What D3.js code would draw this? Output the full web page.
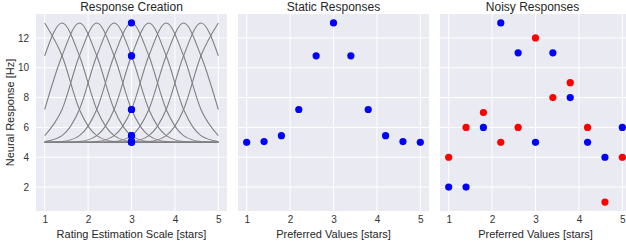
<!DOCTYPE html>
<html>
<head>
<meta charset="utf-8">
<script src="https://cdn.jsdelivr.net/npm/d3@7"></script>
<style>
  body { margin: 0; background: #fff; }
  svg text { font-family: "Liberation Sans", Arial, sans-serif; fill: #262626; }
  .axis .domain { display: none; }
  .axis .tick line { display: none; }
  .axis .tick text { font-size: 10px; fill: #333; }
</style>
</head>
<body>
<svg id="chart"></svg>
<script>
// preferred values of the 11 neurons (stars)
const preferred = [1, 1.4, 1.8, 2.2, 2.6, 3, 3.4, 3.8, 4.2, 4.6, 5];
// response of each neuron to a 3-star stimulus
const staticResp = [5.0, 5.05, 5.45, 7.2, 10.8, 13, 10.8, 7.2, 5.45, 5.05, 5.0];
// two noisy draws
const noisyBlue = [2, 2, 6, 13, 11, 5, 11, 8, 5, 4, 6];
const noisyRed = [4, 6, 7, 5, 6, 12, 8, 9, 6, 1, 4];
// tuning curve shape: distance from preferred value -> response (Hz)
const tuneOffsets = [-4, -3.6, -3.2, -2.8, -2.4, -2, -1.6, -1.2, -0.8, -0.4, 0, 0.4, 0.8, 1.2, 1.6, 2, 2.4, 2.8, 3.2, 3.6, 4];
const tuneValues = [5, 5, 5, 5, 5, 5, 5.05, 5.45, 7.2, 10.8, 13, 10.8, 7.2, 5.45, 5.05, 5, 5, 5, 5, 5, 5];
const stimulus = 3;
const xTicks = [1, 2, 3, 4, 5];
const yTicks = [2, 4, 6, 8, 10, 12];
const titles = ["Response Creation", "Static Responses", "Noisy Responses"];
const xLabels = ["Rating Estimation Scale [stars]", "Preferred Values [stars]", "Preferred Values [stars]"];

const width = 626, height = 248;
const plotTop = 14, plotBottom = 211;
const panelW = 191, panelGap = 11, left0 = 36;

const svg = d3.select("#chart").attr("width", width).attr("height", height);

const y = d3.scaleLinear().domain([0.4, 13.6]).range([plotBottom, plotTop]);

const panels = titles.map((t, i) => {
  const x0 = left0 + i * (panelW + panelGap);
  const x = d3.scaleLinear().domain([0.8, 5.2]).range([x0, x0 + panelW]);
  const g = svg.append("g");

  g.append("rect")
    .attr("x", x0).attr("y", plotTop)
    .attr("width", panelW).attr("height", plotBottom - plotTop)
    .attr("fill", "#EAEAF2");

  // grid lines
  g.selectAll(".gx").data(xTicks).enter().append("line")
    .attr("x1", d => x(d)).attr("x2", d => x(d))
    .attr("y1", plotTop).attr("y2", plotBottom)
    .attr("stroke", "#fff").attr("stroke-width", 1);
  g.selectAll(".gy").data(yTicks).enter().append("line")
    .attr("x1", x0).attr("x2", x0 + panelW)
    .attr("y1", d => y(d)).attr("y2", d => y(d))
    .attr("stroke", "#fff").attr("stroke-width", 1);

  g.append("g").attr("class", "axis")
    .attr("transform", `translate(0,${plotBottom})`)
    .call(d3.axisBottom(x).tickValues(xTicks).tickSize(0).tickPadding(5).tickFormat(d3.format("d")));

  g.append("text")
    .attr("x", x0 + panelW / 2 - (i == 2 ? 3 : 0)).attr("y", 11)
    .attr("text-anchor", "middle").attr("font-size", 12)
    .text(t);

  g.append("text")
    .attr("x", x(3)).attr("y", 238)
    .attr("text-anchor", "middle").attr("font-size", 11)
    .text(xLabels[i]);

  return {g, x};
});

// y axis on first panel only
svg.append("g").attr("class", "axis")
  .attr("transform", `translate(${left0},0)`)
  .call(d3.axisLeft(y).tickValues(yTicks).tickSize(0).tickPadding(7));

svg.append("text")
  .attr("transform", `translate(14,${(plotTop + plotBottom) / 2}) rotate(-90)`)
  .attr("text-anchor", "middle").attr("font-size", 11)
  .text("Neural Response [Hz]");

// panel 1: tuning curves
const p1 = panels[0];
const line = d3.line()
  .x(d => p1.x(d[0])).y(d => y(d[1]))
  .curve(d3.curveMonotoneX);

preferred.forEach(p => {
  const pts = tuneOffsets
    .map((o, k) => [+(p + o).toFixed(2), tuneValues[k]])
    .filter(d => d[0] >= 1 - 1e-6 && d[0] <= 5 + 1e-6);
  p1.g.append("path")
    .attr("d", line(pts))
    .attr("fill", "none")
    .attr("stroke", "#808080")
    .attr("stroke-width", 1.1);
});

p1.g.selectAll(".dot").data(staticResp).enter().append("circle")
  .attr("cx", p1.x(stimulus)).attr("cy", d => y(d))
  .attr("r", 3.6).attr("fill", "#0000ff");

// panel 2: static responses
const p2 = panels[1];
p2.g.selectAll(".dot").data(preferred).enter().append("circle")
  .attr("cx", d => p2.x(d)).attr("cy", (d, i) => y(staticResp[i]))
  .attr("r", 3.6).attr("fill", "#0000ff");

// panel 3: noisy responses
const p3 = panels[2];
p3.g.selectAll(".blue").data(preferred).enter().append("circle")
  .attr("cx", d => p3.x(d)).attr("cy", (d, i) => y(noisyBlue[i]))
  .attr("r", 3.6).attr("fill", "#0000ff");
p3.g.selectAll(".red").data(preferred).enter().append("circle")
  .attr("cx", d => p3.x(d)).attr("cy", (d, i) => y(noisyRed[i]))
  .attr("r", 3.6).attr("fill", "#ff0000");
</script>
</body>
</html>
